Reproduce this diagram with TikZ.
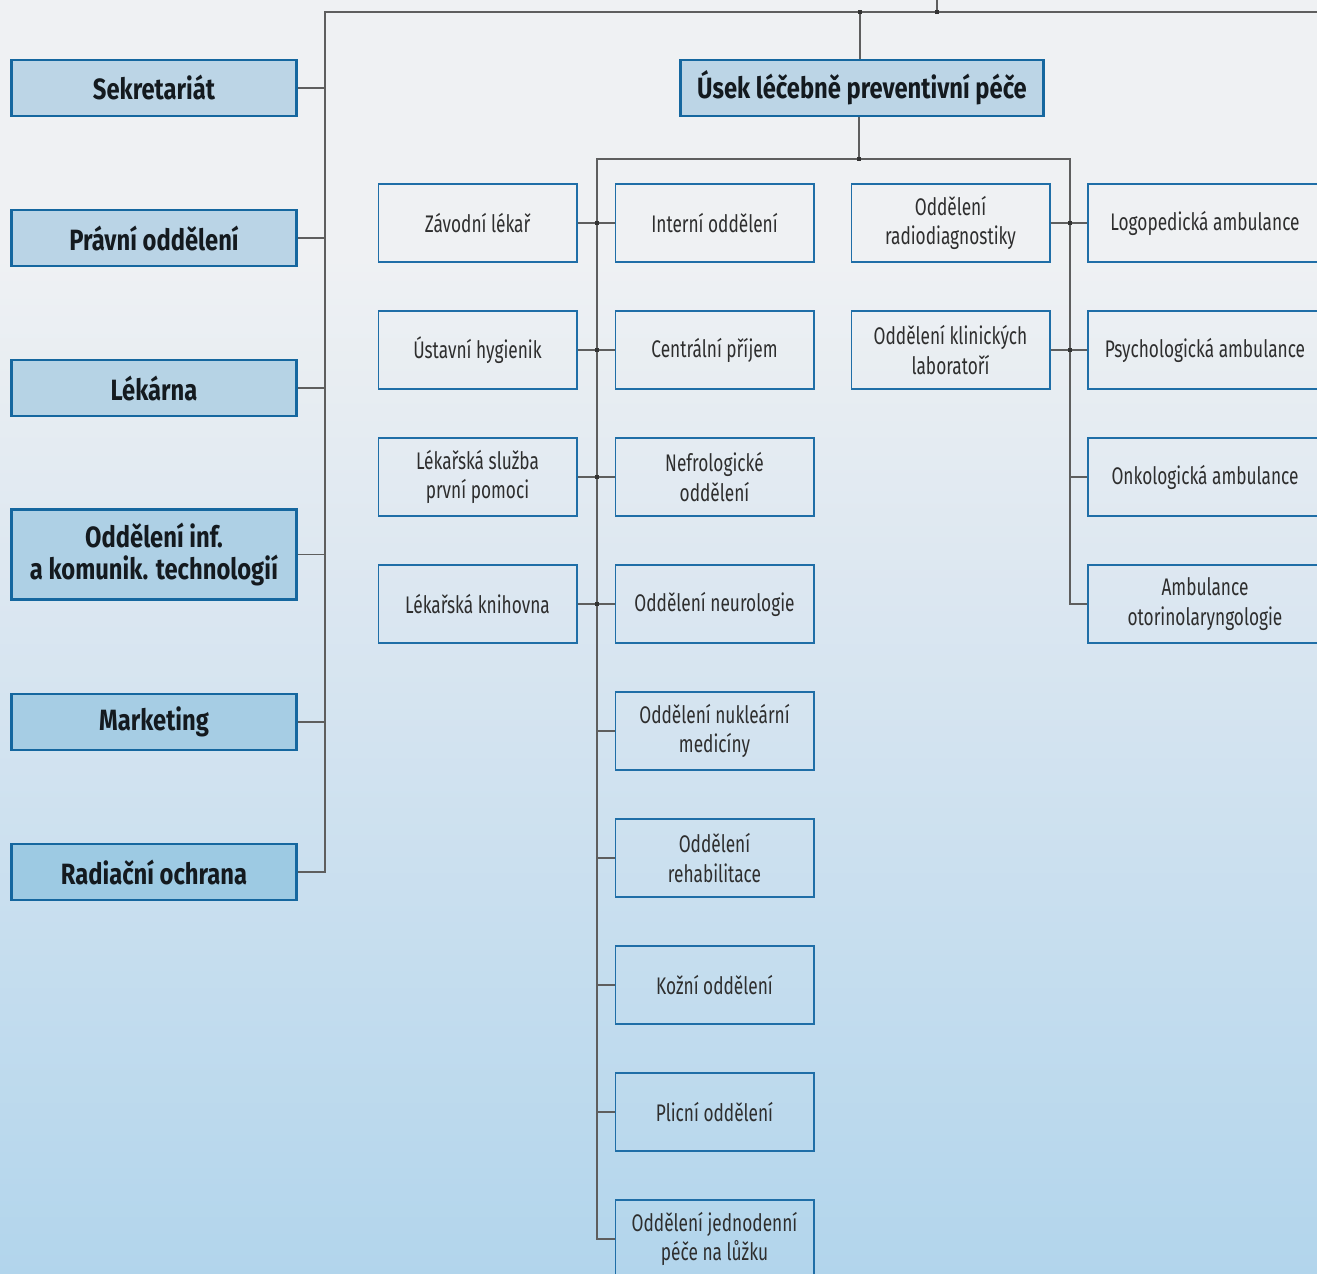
\documentclass[tikz,border=0pt]{standalone}
\usepackage{fontspec}
\setmainfont{Fira Sans}
\newfontfamily\thinfont[FakeStretch=0.72]{Fira Sans}
\newfontfamily\boldfont[FakeStretch=0.81]{Fira Sans}[BoldFont={* Bold}]
\definecolor{bgtop}{HTML}{EFF1F3}
\definecolor{bgmid}{HTML}{DCE7F1}
\definecolor{bgbot}{HTML}{B2D5EC}
\definecolor{boldtop}{HTML}{BCD5E6}
\definecolor{boldbot}{HTML}{9DCAE3}
\definecolor{boldborder}{HTML}{15679F}
\definecolor{thinborder}{HTML}{1F6EA7}
\definecolor{linegray}{HTML}{5E5E5E}
\definecolor{thintext}{HTML}{2E2E2E}
\definecolor{boldtext}{HTML}{141A1F}
\pgfdeclareverticalshading{bgshade}{100bp}{color(0bp)=(bgbot); color(25bp)=(bgbot); color(52bp)=(bgmid); color(65bp)=(bgtop); color(100bp)=(bgtop)}
\begin{document}
\begin{tikzpicture}[x=0.75pt,y=-0.75pt,
  boldbox/.style={draw=boldborder, line width=2.2pt, minimum width=214pt, minimum height=42pt,
    align=center, inner sep=1pt, text=boldtext, font=\boldfont\bfseries\fontsize{22}{24}\selectfont},
  thinbox/.style={draw=thinborder, line width=1pt, minimum width=149pt, minimum height=58.5pt,
    align=center, inner sep=1pt, text=thintext, font=\thinfont\fontsize{18}{22}\selectfont},
  conn/.style={draw=linegray, line width=1.05pt},
  jdot/.style={fill=black!80}
]
\useasboundingbox (0,0) rectangle (1317,1274);
\shade[shading=bgshade] (0,0) rectangle (1317,1274);
\begin{scope}
\clip (0,0) rectangle (1317,1274);

% left column
\node[boldbox, fill=boldtop] (sek) at (154,88) {Sekretariát};
\node[boldbox, fill=boldtop!95!boldbot] (prav) at (154,238) {Právní oddělení};
\node[boldbox, fill=boldtop!82!boldbot] (lek) at (154,388) {Lékárna};
\node[boldbox, fill=boldtop!55!boldbot, minimum height=68pt] (oit) at (154,554.5) {Oddělení inf.\\a komunik. technologií};
\node[boldbox, fill=boldtop!30!boldbot] (mkt) at (154,722) {Marketing};
\node[boldbox, fill=boldbot] (rad) at (154,872) {Radiační ochrana};

% top department
\node[boldbox, fill=boldtop, minimum width=272pt] (usek) at (862,88) {Úsek léčebně preventivní péče};

% column A
\node[thinbox] (a1) at (477.5,223) {Závodní lékař};
\node[thinbox] (a2) at (477.5,350) {Ústavní hygienik};
\node[thinbox] (a3) at (477.5,477) {Lékařská služba\\první pomoci};
\node[thinbox] (a4) at (477.5,604) {Lékařská knihovna};

% column B
\node[thinbox] (b1) at (714.5,223) {Interní oddělení};
\node[thinbox] (b2) at (714.5,350) {Centrální příjem};
\node[thinbox] (b3) at (714.5,477) {Nefrologické\\oddělení};
\node[thinbox] (b4) at (714.5,604) {Oddělení neurologie};
\node[thinbox] (b5) at (714.5,731) {Oddělení nukleární\\medicíny};
\node[thinbox] (b6) at (714.5,858) {Oddělení\\rehabilitace};
\node[thinbox] (b7) at (714.5,985) {Kožní oddělení};
\node[thinbox] (b8) at (714.5,1112) {Plicní oddělení};
\node[thinbox] (b9) at (714.5,1239) {Oddělení jednodenní\\péče na lůžku};

% column C
\node[thinbox] (c1) at (950.5,223) {Oddělení\\radiodiagnostiky};
\node[thinbox] (c2) at (950.5,350) {Oddělení klinických\\laboratoří};

% column D
\node[thinbox, minimum width=175.5pt] (d1) at (1205,223) {Logopedická ambulance};
\node[thinbox, minimum width=175.5pt] (d2) at (1205,350) {Psychologická ambulance};
\node[thinbox, minimum width=175.5pt] (d3) at (1205,477) {Onkologická ambulance};
\node[thinbox, minimum width=175.5pt] (d4) at (1205,604) {Ambulance\\otorinolaryngologie};

% spine and top line
\coordinate (ltop) at (325,12);
\coordinate (rtop) at (1330,12);
\coordinate (topin) at (937,-5);
\coordinate (ustem) at (860,12);
\draw[conn] (rad.east) -- (rad.east -| ltop) -- (ltop) -- (rtop);
\foreach \n in {sek,prav,lek,oit,mkt} \draw[conn] (\n.east) -- (\n.east -| ltop);
\draw[conn] (topin) -- (topin |- ltop);
\draw[conn] (ustem) -- (ustem |- usek.north);

% bus
\coordinate (bus) at (859,159);
\coordinate (busL) at (597,159);
\coordinate (busR) at (1070,159);
\draw[conn] (bus |- usek.south) -- (bus);
\draw[conn] (b9.west) -- (b9.west -| busL) -- (busL) -- (busR) -- (d4.west -| busR) -- (d4.west);
\foreach \i in {1,2,3,4} \draw[conn] (a\i.east) -- (b\i.west);
\foreach \i in {5,6,7,8} \draw[conn] (b\i.west) -- (b\i.west -| busL);
\foreach \i in {1,2} \draw[conn] (c\i.east) -- (d\i.west);
\draw[conn] (d3.west) -- (d3.west -| busR);

% junction marks
\foreach \i in {1,2,3,4} \fill[jdot] (a\i.east -| busL) ++(-1.3pt,-1.3pt) rectangle ++(2.6pt,2.6pt);
\foreach \i in {1,2} \fill[jdot] (c\i.east -| busR) ++(-1.3pt,-1.3pt) rectangle ++(2.6pt,2.6pt);
\fill[jdot] (topin |- ltop) ++(-1.3pt,-1.3pt) rectangle ++(2.6pt,2.6pt);
\fill[jdot] (ustem) ++(-1.3pt,-1.3pt) rectangle ++(2.6pt,2.6pt);
\fill[jdot] (bus) ++(-1.3pt,-1.3pt) rectangle ++(2.6pt,2.6pt);
\end{scope}
\end{tikzpicture}
\end{document}
